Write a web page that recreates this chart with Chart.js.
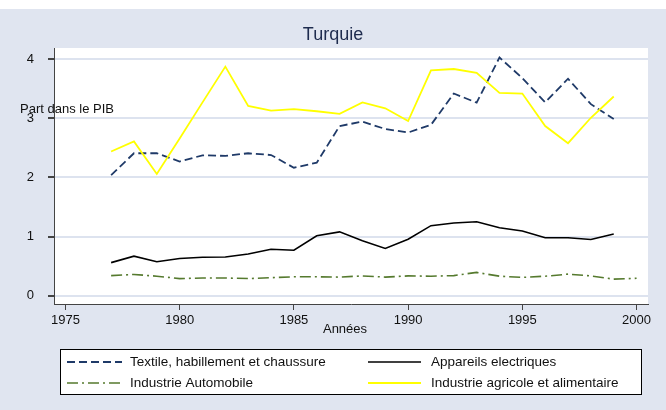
<!DOCTYPE html>
<html><head><meta charset="utf-8">
<script src="https://cdn.jsdelivr.net/npm/chart.js@4/dist/chart.umd.min.js"></script>
<style>html,body{margin:0;padding:0;background:#fff;overflow:hidden}</style>
</head><body>
<canvas id="c" width="666" height="410"></canvas>
<script>
const years = [1977,1978,1979,1980,1981,1982,1983,1984,1985,1986,1987,1988,1989,1990,1991,1992,1993,1994,1995,1996,1997,1998,1999];
const yearsAuto = [1977,1978,1979,1980,1981,1982,1983,1984,1985,1986,1987,1988,1989,1990,1991,1992,1993,1994,1995,1996,1997,1998,1999,2000];
const textile = [2.04,2.41,2.41,2.27,2.375,2.365,2.41,2.38,2.165,2.25,2.87,2.945,2.82,2.76,2.89,3.42,3.265,4.03,3.68,3.27,3.67,3.24,2.99];
const appareils = [0.56,0.67,0.575,0.63,0.65,0.655,0.705,0.785,0.77,1.015,1.08,0.93,0.80,0.955,1.185,1.23,1.25,1.15,1.095,0.98,0.98,0.95,1.045];
const automobile = [0.34,0.36,0.33,0.29,0.30,0.30,0.29,0.305,0.32,0.32,0.315,0.335,0.315,0.335,0.33,0.34,0.395,0.33,0.31,0.33,0.365,0.335,0.28,0.295];
const agricole = [2.44,2.61,2.06,2.66,3.27,3.875,3.21,3.13,3.155,3.12,3.075,3.27,3.17,2.955,3.81,3.835,3.77,3.43,3.42,2.87,2.58,3.01,3.37];
const labels = ["Textile, habillement et chaussure","Appareils electriques","Industrie Automobile","Industrie agricole et alimentaire"];
const xTicks = [1975,1980,1985,1990,1995,2000];
const yTicks = [0,1,2,3,4];
const titleText = "Turquie";
const xTitle = "Années";
const yTitle = "Part dans le PIB";

const FONT = "'Liberation Sans', Arial, sans-serif";
const pts = (xs, ys) => xs.map((x, i) => ({x, y: ys[i]}));

const decor = {
  id: 'decor',
  beforeDraw(chart) {
    const ctx = chart.ctx, a = chart.chartArea;
    ctx.save();
    ctx.fillStyle = '#fff';
    ctx.fillRect(0, 0, chart.width, chart.height);
    ctx.fillStyle = '#e0e5f0';
    ctx.fillRect(0, 9, chart.width, chart.height - 9);
    ctx.fillStyle = '#fff';
    ctx.fillRect(a.left, a.top, a.right - a.left, a.bottom - a.top);
    ctx.restore();
  },
  afterDraw(chart) {
    const ctx = chart.ctx;
    ctx.save();
    ctx.textBaseline = 'middle';
    // title
    ctx.fillStyle = '#1e2b4e';
    ctx.font = '18px ' + FONT;
    ctx.textAlign = 'center';
    ctx.fillText(titleText, 333, 35);
    // axis titles
    ctx.fillStyle = '#111';
    ctx.font = '13px ' + FONT;
    ctx.fillText(xTitle, 345, 329);
    ctx.textAlign = 'left';
    ctx.fillText(yTitle, 20, 109);
    // legend box
    ctx.fillStyle = '#fff';
    ctx.fillRect(60, 349, 582, 46);
    ctx.strokeStyle = '#000';
    ctx.lineWidth = 1;
    ctx.strokeRect(60.5, 349.5, 581, 45);
    const colLine = [[67, 122], [368, 421]];
    const colText = [130, 431];
    const rowY = [362, 383];
    ctx.font = '13.5px ' + FONT;
    chart.data.datasets.forEach((ds, i) => {
      const c = i % 2, r = Math.floor(i / 2);
      ctx.beginPath();
      ctx.setLineDash(ds.borderDash || []);
      ctx.strokeStyle = ds.borderColor;
      ctx.lineWidth = ds.borderWidth;
      ctx.moveTo(colLine[c][0], rowY[r]);
      ctx.lineTo(colLine[c][1], rowY[r]);
      ctx.stroke();
      ctx.setLineDash([]);
      ctx.fillStyle = '#111';
      ctx.fillText(ds.label, colText[c], rowY[r]);
    });
    ctx.restore();
  }
};

new Chart(document.getElementById('c'), {
  type: 'line',
  data: {
    datasets: [
      {label: labels[0], data: pts(years, textile), borderColor: '#1f3a68', borderWidth: 1.8, borderDash: [8, 4], order: 3},
      {label: labels[1], data: pts(years, appareils), borderColor: '#000000', borderWidth: 1.6, order: 2},
      {label: labels[2], data: pts(yearsAuto, automobile), borderColor: '#557a2e', borderWidth: 1.6, borderDash: [11, 4, 2, 4], order: 1},
      {label: labels[3], data: pts(years, agricole), borderColor: '#ffff00', borderWidth: 1.8, order: 0}
    ]
  },
  options: {
    responsive: false,
    devicePixelRatio: 1,
    animation: false,
    layout: {padding: {top: 48, right: 18, left: 0, bottom: 0}},
    elements: {point: {radius: 0}, line: {tension: 0, fill: false}},
    plugins: {legend: {display: false}, title: {display: false}, tooltip: {enabled: false}},
    scales: {
      x: {
        type: 'linear', min: 1974.5, max: 2000.5,
        afterBuildTicks: s => { s.ticks = xTicks.map(v => ({value: v})); },
        afterFit: s => { s.height = 106; },
        ticks: {includeBounds: false, color: '#111', padding: 3, font: {family: FONT, size: 13}, callback: v => String(v), maxRotation: 0},
        grid: {drawOnChartArea: false, drawTicks: true, tickLength: 6, tickColor: '#444'},
        border: {display: true, color: '#444', width: 1}
      },
      y: {
        type: 'linear', min: -0.14, max: 4.19,
        afterBuildTicks: s => { s.ticks = yTicks.map(v => ({value: v})); },
        afterFit: s => { s.width = 54; },
        ticks: {includeBounds: false, color: '#111', padding: 14, font: {family: FONT, size: 13}, callback: v => String(v)},
        grid: {color: '#dde3ef', lineWidth: 2, drawTicks: true, tickLength: 6, tickColor: '#444'},
        border: {display: true, color: '#444', width: 1}
      }
    }
  },
  plugins: [decor]
});
</script>
</body></html>
